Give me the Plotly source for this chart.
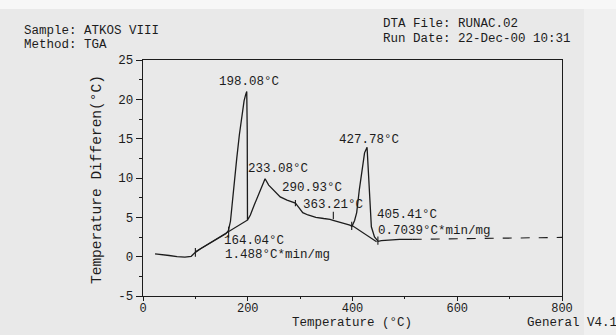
import plotly.graph_objects as go

# ---- data ----
temp = [23, 35, 50, 65, 80, 92, 100, 110, 120, 135, 150, 158, 163, 167, 170, 174, 179, 184,
        189, 193, 196, 198.08, 199, 199.5, 201, 205, 212, 220, 228, 233.08, 240, 250, 262,
        275, 287, 291, 297, 305, 315, 330, 345, 357, 363, 372, 385, 395, 399, 404, 408,
        413, 418, 423, 427.78, 430, 434, 436, 442, 449, 455, 470, 490, 515]
dtemp = [0.35, 0.3, 0.15, 0.0, -0.05, 0.05, 0.55, 1.0, 1.4, 1.9, 2.5, 2.9, 3.3, 4.5, 6.5,
         9.5, 12.5, 15.5, 18.3, 19.8, 20.6, 21.0, 16.0, 4.7, 4.8, 5.3, 6.5, 7.8, 9.1, 9.9,
         9.1, 8.4, 7.6, 7.2, 6.9, 6.8, 6.3, 5.6, 5.3, 5.0, 4.85, 4.75, 4.6, 4.4, 4.2, 4.0,
         3.85, 4.6, 5.6, 8.5, 11.2, 13.2, 13.9, 11.1, 6.9, 3.8, 2.5, 1.95, 2.05, 2.15, 2.2, 2.2]
tail_temp = [515, 800]
tail_dtemp = [2.2, 2.45]

base1_temp = [99.5, 200.5]
base1_dtemp = [0.6, 4.7]
base2_temp = [398.5, 446]
base2_dtemp = [4.0, 1.9]
marker_temps = [100, 163.5, 291, 363.4, 398.5, 448.5]
marker_lo = [0.0, 2.4, 6.4, 4.75, 3.4, 1.5]
marker_hi = [1.1, 3.8, 7.2, 5.7, 4.45, 2.55]

peak_labels = ["198.08°C", "233.08°C", "290.93°C", "363.21°C", "427.78°C",
               "405.41°C", "0.7039°C*min/mg", "164.04°C", "1.488°C*min/mg"]
label_t = [141.3, 196.7, 261.6, 301.0, 371.0, 443.5, 445.5, 151.5, 153.3]
label_d = [22.2, 11.1, 8.7, 6.6, 14.8, 5.3, 3.2, 2.0, 0.2]

x_ticks = [0, 200, 400, 600, 800]
y_ticks = [-5, 0, 5, 10, 15, 20, 25]

# ---- layout geometry ----
W, H = 616, 335
L, R, T, B = 143, 562, 60, 296
FONT = "Liberation Mono"
INK = "#1c1c1c"
BG = "#e9e9e9"


def px(x):
    return (x - L) / (R - L)


def py(y):
    return (B - y) / (B - T)


fig = go.Figure()
line = dict(color=INK, width=1.3)
fig.add_trace(go.Scatter(x=temp, y=dtemp, mode="lines", line=line, hoverinfo="skip"))
fig.add_trace(go.Scatter(x=tail_temp, y=tail_dtemp, mode="lines",
                         line=dict(color=INK, width=1.1, dash="dash"), hoverinfo="skip"))
fig.add_trace(go.Scatter(x=base1_temp, y=base1_dtemp, mode="lines",
                         line=dict(color=INK, width=1.1), hoverinfo="skip"))
fig.add_trace(go.Scatter(x=base2_temp, y=base2_dtemp, mode="lines",
                         line=dict(color=INK, width=1.1), hoverinfo="skip"))
mx, my = [], []
for t_, lo, hi in zip(marker_temps, marker_lo, marker_hi):
    mx += [t_, t_, None]
    my += [lo, hi, None]
fig.add_trace(go.Scatter(x=mx, y=my, mode="lines", line=dict(color=INK, width=1.1),
                         hoverinfo="skip"))

ann = []
for txt, t_, d_ in zip(peak_labels, label_t, label_d):
    ann.append(dict(x=t_, y=d_, xref="x", yref="y", text=txt, showarrow=False,
                    xanchor="left", yanchor="middle",
                    font=dict(family=FONT, size=12.5, color=INK)))

hdr = [("Sample: ATKOS VIII", 22, 31), ("Method: TGA", 22, 45),
       ("DTA File: RUNAC.02", 381, 24), ("Run Date: 22-Dec-00 10:31", 381, 39),
       ("General V4.1", 525, 323)]
for txt, x, y in hdr:
    ann.append(dict(x=px(x), y=py(y), xref="paper", yref="paper", text=txt,
                    showarrow=False, xanchor="left", yanchor="middle",
                    font=dict(family=FONT, size=12.5, color=INK)))
ann.append(dict(x=px(352), y=py(323), xref="paper", yref="paper", text="Temperature (°C)",
                showarrow=False, xanchor="center", yanchor="middle",
                font=dict(family=FONT, size=12.5, color=INK)))
ann.append(dict(x=px(97), y=py(180), xref="paper", yref="paper",
                text="Temperature Differen(°C)", showarrow=False, textangle=-90,
                xanchor="center", yanchor="middle",
                font=dict(family=FONT, size=14.5, color=INK)))

shapes = [
    dict(type="rect", xref="paper", yref="paper", x0=px(0), x1=px(W), y0=py(0), y1=py(9),
         fillcolor="#f7f7f7", line=dict(width=0), layer="below"),
    dict(type="rect", xref="paper", yref="paper", x0=px(584), x1=px(W), y0=py(9), y1=py(H),
         fillcolor="#f0f0f0", line=dict(width=0), layer="below"),
]

axis_common = dict(showgrid=False, zeroline=False, showline=True, mirror=True,
                   linecolor=INK, linewidth=1.4, ticks="outside", tickcolor=INK,
                   tickwidth=1.2)

fig.update_layout(
    width=W, height=H,
    margin=dict(l=L, r=W - R, t=T, b=H - B),
    paper_bgcolor=BG, plot_bgcolor=BG,
    showlegend=False,
    annotations=ann, shapes=shapes,
    xaxis=dict(range=[0, 800], tickvals=x_ticks, ticktext=[str(v) for v in x_ticks],
               ticklen=4, ticklabelstandoff=-4,
               tickfont=dict(family=FONT, size=12, color=INK),
               minor=dict(dtick=100, ticks="outside", ticklen=2, tickcolor=INK),
               **axis_common),
    yaxis=dict(range=[-5, 25], tickvals=y_ticks, ticktext=[str(v) for v in y_ticks],
               ticklen=6, tickfont=dict(family=FONT, size=12.5, color=INK),
               minor=dict(dtick=2.5, ticks="outside", ticklen=3, tickcolor=INK),
               **axis_common),
)

fig.write_html("out.html")
